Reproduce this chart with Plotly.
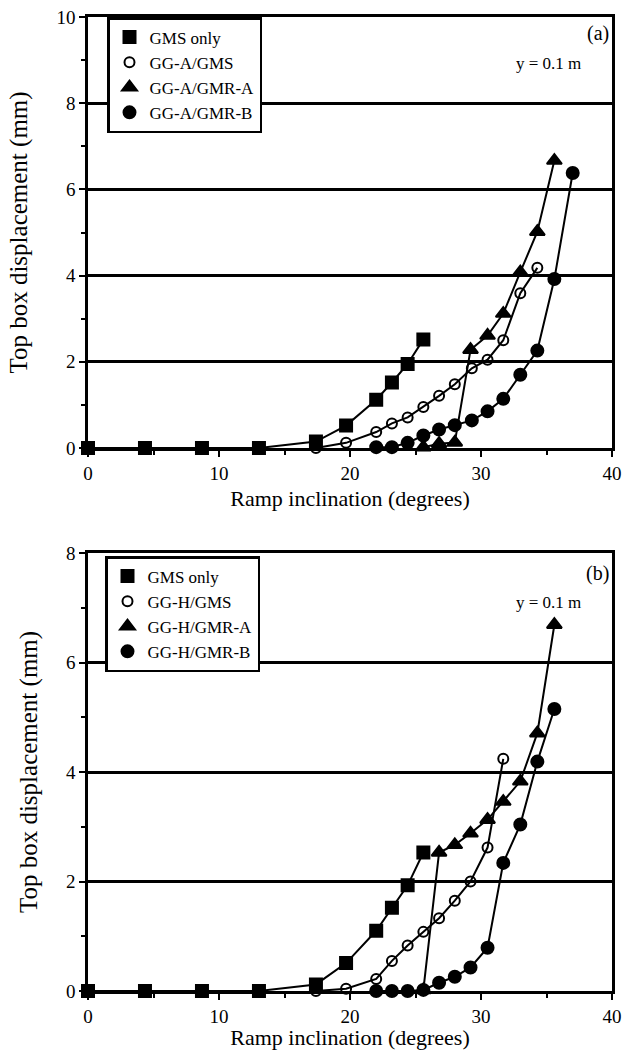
import plotly.graph_objects as go

# ---------------- data: panel (a) ----------------
xa_gms = [0, 4.35, 8.7, 13.05, 17.4, 19.7, 22.0, 23.2, 24.4, 25.6]
ya_gms = [0, 0, 0, 0, 0.15, 0.52, 1.12, 1.52, 1.95, 2.52]
xa_ggms = [17.4, 19.7, 22.0, 23.2, 24.4, 25.6, 26.8, 28.0, 29.3, 30.5, 31.7, 33.0, 34.3]
ya_ggms = [0, 0.12, 0.37, 0.57, 0.71, 0.95, 1.21, 1.48, 1.85, 2.05, 2.50, 3.59, 4.18]
xa_gmra = [25.6, 26.8, 28.0, 29.2, 30.5, 31.7, 33.0, 34.3, 35.6]
ya_gmra = [0.02, 0.10, 0.13, 2.28, 2.61, 3.12, 4.08, 5.02, 6.67]
xa_gmrb = [22.0, 23.2, 24.4, 25.6, 26.8, 28.0, 29.3, 30.5, 31.7, 33.0, 34.3, 35.6, 37.0]
ya_gmrb = [0.02, 0.02, 0.12, 0.29, 0.43, 0.53, 0.64, 0.85, 1.14, 1.70, 2.26, 3.92, 6.38]
names_a = ["GMS only", "GG-A/GMS", "GG-A/GMR-A", "GG-A/GMR-B"]

# ---------------- data: panel (b) ----------------
xb_gms = [0, 4.35, 8.7, 13.05, 17.4, 19.7, 22.0, 23.2, 24.4, 25.6]
yb_gms = [0, 0, 0, 0, 0.12, 0.51, 1.10, 1.52, 1.93, 2.53]
xb_ggms = [17.4, 19.7, 22.0, 23.2, 24.4, 25.6, 26.8, 28.0, 29.2, 30.5, 31.7]
yb_ggms = [0, 0.04, 0.22, 0.55, 0.83, 1.08, 1.33, 1.65, 2.00, 2.62, 4.24]
xb_gmra = [25.6, 26.8, 28.0, 29.2, 30.5, 31.7, 33.0, 34.3, 35.6]
yb_gmra = [0.02, 2.53, 2.67, 2.88, 3.13, 3.46, 3.83, 4.71, 6.69]
xb_gmrb = [22.0, 23.2, 24.4, 25.6, 26.8, 28.0, 29.2, 30.5, 31.7, 33.0, 34.3, 35.6]
yb_gmrb = [0, 0, 0, 0.02, 0.15, 0.26, 0.43, 0.79, 2.34, 3.04, 4.19, 5.15]
names_b = ["GMS only", "GG-H/GMS", "GG-H/GMR-A", "GG-H/GMR-B"]

x_ticks = [0, 10, 20, 30, 40]

FONT = "Liberation Serif"
symbols = ["square", "circle-open", "triangle-up", "circle"]
sizes = [12, 10, 13, 12]

fig = go.Figure()

def add_panel(series, names, xa, ya, legend):
    # lines + markers (not in legend)
    for (x, y), sym, sz in zip(series, symbols, sizes):
        fig.add_trace(go.Scatter(
            x=x, y=y, mode="lines+markers", xaxis=xa, yaxis=ya,
            line=dict(color="black", width=2),
            marker=dict(symbol=sym, size=sz, color="black",
                        line=dict(color="black", width=2)),
            showlegend=False, cliponaxis=False, hoverinfo="skip"))
    # legend entries (markers only, like the reference legend)
    for name, sym, sz in zip(names, symbols, sizes):
        fig.add_trace(go.Scatter(
            x=[None], y=[None], mode="markers", xaxis=xa, yaxis=ya,
            name=name, legend=legend,
            marker=dict(symbol=sym, size=sz, color="black",
                        line=dict(color="black", width=2))))

add_panel([(xa_gms, ya_gms), (xa_ggms, ya_ggms), (xa_gmra, ya_gmra), (xa_gmrb, ya_gmrb)],
          names_a, "x", "y", "legend")
add_panel([(xb_gms, yb_gms), (xb_ggms, yb_ggms), (xb_gmra, yb_gmra), (xb_gmrb, yb_gmrb)],
          names_b, "x2", "y2", "legend2")

W, H = 624, 1050
xdom = [88 / W, 612 / W]
ydom_a = [1 - 448 / H, 1 - 17 / H]
ydom_b = [1 - 991 / H, 1 - 553 / H]

axis_common = dict(
    showline=True, linecolor="black", linewidth=2.5, mirror=True,
    ticks="outside", ticklen=6, tickwidth=2, tickcolor="black",
    tickfont=dict(family=FONT, size=19, color="black"),
    zeroline=False, automargin=False,
)

xaxis_common = dict(axis_common, range=[0, 40], tickvals=x_ticks, showgrid=False,
                    minor=dict(dtick=5, tick0=0, ticks="outside", ticklen=4,
                               tickwidth=2, tickcolor="black", showgrid=False),
                    title=dict(text="Ramp inclination (degrees)",
                               font=dict(family=FONT, size=22, color="black"), standoff=9))

yaxis_common = dict(axis_common, showgrid=True, gridcolor="black", gridwidth=2.8,
                    tick0=0, dtick=2,
                    minor=dict(dtick=1, tick0=0, ticks="outside", ticklen=4,
                               tickwidth=2, tickcolor="black", showgrid=False),
                    title=dict(text="Top box displacement (mm)",
                               font=dict(family=FONT, size=25, color="black"), standoff=22))

fig.update_layout(
    width=W, height=H,
    margin=dict(l=0, r=0, t=0, b=0),
    paper_bgcolor="white", plot_bgcolor="white",
    template="none",
    font=dict(family=FONT, color="black"),
    xaxis=dict(xaxis_common, domain=xdom, anchor="y"),
    yaxis=dict(yaxis_common, domain=ydom_a, range=[0, 10], anchor="x"),
    xaxis2=dict(xaxis_common, domain=xdom, anchor="y2"),
    yaxis2=dict(yaxis_common, domain=ydom_b, range=[0, 8], anchor="x2"),
    legend=dict(x=107 / W, y=ydom_a[1], xanchor="left", yanchor="top",
                bgcolor="white", bordercolor="black", borderwidth=2.5,
                font=dict(family=FONT, size=17, color="black"),
                itemwidth=30, tracegroupgap=0),
    legend2=dict(x=105 / W, y=1 - 556 / H, xanchor="left", yanchor="top",
                 bgcolor="white", bordercolor="black", borderwidth=2.5,
                 font=dict(family=FONT, size=17, color="black"),
                 itemwidth=30, tracegroupgap=0),
    annotations=[
        dict(text="(a)", xref="paper", yref="paper", x=611 / W, y=1 - 33 / H,
             xanchor="right", yanchor="middle", showarrow=False,
             font=dict(family=FONT, size=20, color="black")),
        dict(text="y = 0.1 m", xref="paper", yref="paper", x=548 / W, y=1 - 63 / H,
             xanchor="center", yanchor="middle", showarrow=False,
             font=dict(family=FONT, size=17, color="black")),
        dict(text="(b)", xref="paper", yref="paper", x=611 / W, y=1 - 573 / H,
             xanchor="right", yanchor="middle", showarrow=False,
             font=dict(family=FONT, size=20, color="black")),
        dict(text="y = 0.1 m", xref="paper", yref="paper", x=548 / W, y=1 - 602 / H,
             xanchor="center", yanchor="middle", showarrow=False,
             font=dict(family=FONT, size=17, color="black")),
    ],
)

fig.write_html("out.html")
